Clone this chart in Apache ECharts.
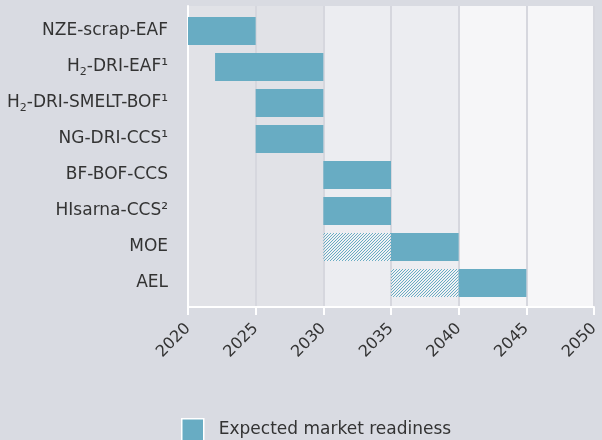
<!DOCTYPE html>
<html lang="en">
<head>
  <meta charset="UTF-8">
  <title>Market readiness</title>
  <script src="https://cdn.jsdelivr.net/npm/echarts@6/dist/echarts.min.js"></script>
  <style>
    html, body { margin: 0; padding: 0; background: #d9dbe2; }
    #chart { width: 602px; height: 440px; }
  </style>
</head>
<body>
<div id="chart"></div>
<script>
  // technologies, top to bottom
  var categories = ['NZE-scrap-EAF', 'H₂-DRI-EAF¹', 'H₂-DRI-SMELT-BOF¹', 'NG-DRI-CCS¹',
    'BF-BOF-CCS', 'HIsarna-CCS²', 'MOE', 'AEL'];
  // expected market readiness (years)
  var readyStart = [2020, 2022, 2025, 2025, 2030, 2030, 2035, 2040];
  var readyEnd   = [2025, 2030, 2030, 2030, 2035, 2035, 2040, 2045];
  // hatched lead-in period, null where there is none
  var hatchStart = [null, null, null, null, null, null, 2030, 2035];
  var yearTicks = [2020, 2025, 2030, 2035, 2040, 2045, 2050];

  var baseData = [], hatchData = [], readyData = [];
  for (var i = 0; i < categories.length; i++) {
    var h = hatchStart[i];
    baseData.push(h == null ? readyStart[i] : h);
    hatchData.push(h == null ? 0 : readyStart[i] - h);
    readyData.push(readyEnd[i] - readyStart[i]);
  }

  var barColor = '#68acc3';
  var font = 'DejaVu Sans';

  // small tile with a "/" stripe for the hatched bars
  function hatchTile() {
    var c = document.createElement('canvas');
    c.width = 3; c.height = 3;
    var ctx = c.getContext('2d');
    ctx.fillStyle = 'rgba(255,255,255,0.25)';
    ctx.fillRect(0, 0, 3, 3);
    ctx.fillStyle = barColor;
    ctx.fillRect(2, 0, 1, 1);
    ctx.fillRect(1, 1, 1, 1);
    ctx.fillRect(0, 2, 1, 1);
    return c;
  }

  var chart = echarts.init(document.getElementById('chart'));
  var option = {
    backgroundColor: '#d9dbe2',
    animation: false,
    textStyle: { fontFamily: font },
    grid: [
      { left: 188, right: 8, top: 6, bottom: 133 },
      { left: 188, right: 8, top: 13, bottom: 139 }
    ],
    xAxis: [
      {
        gridIndex: 0, type: 'value',
        min: yearTicks[0], max: yearTicks[yearTicks.length - 1], interval: 5,
        axisLine: { show: true, lineStyle: { color: '#ffffff', width: 2 } },
        axisTick: { show: true, length: 8, lineStyle: { color: '#ffffff', width: 2 } },
        axisLabel: {
          rotate: 45, margin: 19, color: '#333333', fontSize: 16, fontFamily: font,
          formatter: function (v) { return String(v); }
        },
        splitLine: { show: true, lineStyle: { color: '#d6d7de', width: 2 } },
        splitArea: { show: true, areaStyle: { color: ['#e1e2e7', '#e1e2e7', '#ecedf1', '#ecedf1', '#f6f6f8', '#f6f6f8'] } }
      },
      {
        gridIndex: 1, type: 'value',
        min: yearTicks[0], max: yearTicks[yearTicks.length - 1], interval: 5,
        show: false
      }
    ],
    yAxis: [
      {
        gridIndex: 0, type: 'value', min: 0, max: 1,
        axisLine: { show: true, lineStyle: { color: '#ffffff', width: 2 } },
        axisTick: { show: false }, axisLabel: { show: false }, splitLine: { show: false }
      },
      {
        gridIndex: 1, type: 'category', inverse: true, data: categories,
        axisLine: { show: false }, axisTick: { show: false }, splitLine: { show: false },
        axisLabel: {
          margin: 20, color: '#333333', fontSize: 17, fontFamily: font,
          formatter: function (v) { return v.replace('₂', '{sub|2}'); },
          rich: {
            sub: { fontSize: 11, color: '#333333', fontFamily: font, padding: [10, 0, 0, 0] }
          }
        }
      }
    ],
    legend: {
      left: 181, top: 418, padding: 0, itemWidth: 22, itemHeight: 22, icon: 'rect',
      data: ['Expected market readiness'],
      itemStyle: { borderColor: '#ffffff', borderWidth: 1.5 },
      textStyle: { color: '#333333', fontSize: 17, fontFamily: font, padding: [0, 0, 0, 10] }
    },
    series: [
      {
        name: 'base', type: 'bar', stack: 'r', xAxisIndex: 1, yAxisIndex: 1,
        barWidth: 28, itemStyle: { color: 'rgba(0,0,0,0)' }, silent: true,
        data: baseData
      },
      {
        name: 'lead-in', type: 'bar', stack: 'r', xAxisIndex: 1, yAxisIndex: 1,
        barWidth: 28,
        itemStyle: { color: { image: hatchTile(), repeat: 'repeat' } },
        data: hatchData
      },
      {
        name: 'Expected market readiness', type: 'bar', stack: 'r', xAxisIndex: 1, yAxisIndex: 1,
        barWidth: 28, itemStyle: { color: barColor },
        data: readyData
      }
    ]
  };
  chart.setOption(option);
</script>
</body>
</html>
